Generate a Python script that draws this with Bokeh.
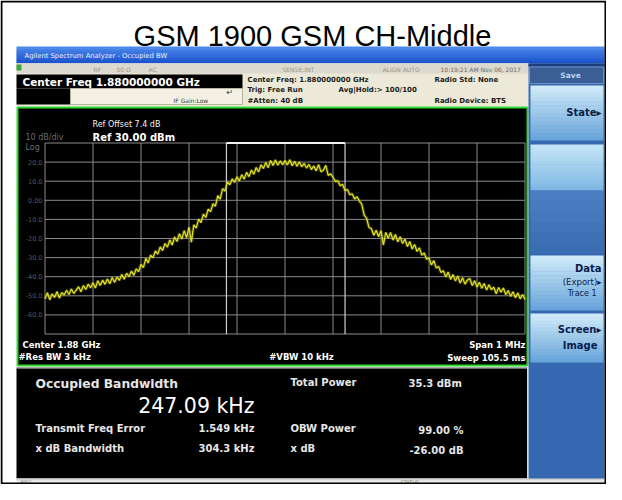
from bokeh.plotting import figure
from bokeh.models import Range1d
from bokeh.core.properties import value
from bokeh.embed import file_html
from bokeh.resources import INLINE

# ---------------- data ----------------
title_text = "GSM 1900 GSM CH-Middle"

freq_khz = list(range(-500, 505, 5))          # sweep points, offset from 1.88 GHz
trace_dbm = [
    -51.6, -48.4, -52.1, -49.0, -50.9, -47.8, -51.2, -48.3, -49.6, -47.1,
    -49.3, -46.4, -48.8, -47.0, -45.3, -47.9, -44.6, -46.7, -43.9, -45.8,
    -43.2, -45.9, -42.1, -44.6, -41.8, -44.0, -41.2, -43.7, -40.4, -42.9,
    -40.1, -41.9, -38.8, -41.3, -38.2, -40.0, -37.1, -39.2, -35.9, -37.4,
    -33.6, -35.2, -30.4, -32.8, -28.7, -30.1, -26.5, -28.2, -24.4, -26.3,
    -22.6, -24.5, -20.8, -23.4, -19.2, -21.6, -17.5, -20.3, -15.9, -19.6,
    -14.1, -21.9, -12.8, -14.6, -9.9, -11.7, -7.2, -9.0, -4.6, -5.9,
    -1.8, -3.1, 2.4, 0.6, 6.1, 4.8, 9.7, 8.1, 11.2, 9.4,
    12.3, 10.2, 13.4, 11.1, 14.6, 12.4, 15.8, 13.6, 17.2, 14.9,
    18.6, 16.7, 19.8, 17.1, 20.9, 18.2, 21.1, 18.4, 20.6, 18.7,
    20.8, 18.5, 21.2, 18.1, 20.4, 17.8, 20.1, 17.6, 19.3, 16.9,
    18.8, 16.1, 18.0, 15.4, 18.7, 14.9, 15.8, 18.3, 13.0, 13.9,
    12.1, 9.8, 10.2, 7.6, 8.4, 5.1, 5.6, 2.9, 3.4, 0.7,
    1.9, -0.4, -2.1, -7.8, -9.4, -14.2, -14.9, -18.3, -15.7, -19.1,
    -15.9, -23.4, -16.8, -19.9, -16.9, -20.8, -17.9, -21.7, -19.1, -22.6,
    -20.3, -24.2, -21.6, -25.5, -23.1, -26.8, -24.9, -28.7, -27.6, -30.9,
    -30.2, -33.8, -31.5, -35.4, -34.6, -37.8, -36.9, -40.1, -37.6, -41.4,
    -38.9, -42.2, -39.6, -43.3, -40.5, -43.9, -41.8, -40.9, -44.6, -42.1,
    -45.4, -42.9, -46.1, -43.6, -47.0, -44.2, -46.8, -45.5, -48.9, -45.6,
    -48.1, -45.9, -49.4, -47.2, -50.3, -47.9, -51.0, -48.5, -51.6, -49.3,
    -52.0,
]

x_ticks_khz = [-500, -400, -300, -200, -100, 0, 100, 200, 300, 400, 500]
y_ticks_dbm = [30, 20, 10, 0, -10, -20, -30, -40, -50, -60, -70]
y_tick_values = [20, 10, 0, -10, -20, -30, -40, -50, -60]
y_tick_labels = ["20.0", "10.0", "0.00", "-10.0", "-20.0", "-30.0", "-40.0", "-50.0", "-60.0"]

obw_khz = 247.09
freq_error_khz = 1.549

meas_left_labels = ["Transmit Freq Error", "x dB Bandwidth"]
meas_left_values = ["1.549 kHz", "304.3 kHz"]
meas_right_labels = ["Total Power", "OBW Power", "x dB"]
meas_right_values = ["35.3 dBm", "99.00 %", "-26.00 dB"]
obw_text = "247.09 kHz"

# ---------------- figure in pixel coordinates ----------------
X0, X1, Y0, Y1 = 0, 606, 0, 484
p = figure(width=X1 - X0, height=Y1 - Y0, x_range=Range1d(X0, X1), y_range=Range1d(Y1, Y0),
           output_backend="svg", toolbar_location=None, min_border=0,
           x_axis_location=None, y_axis_location=None)
p.grid.visible = False
p.outline_line_color = None
p.background_fill_color = "white"
p.border_fill_color = "white"

# graph grid placement (pixels) -> data ranges for the trace
GX0, GX1, GY0, GY1 = 44.5, 524.5, 142.5, 333.5
F0, F1, DT, DB = -500.0, 500.0, 30.0, -70.0
kx = (F1 - F0) / (GX1 - GX0)
ky = (DT - DB) / (GY1 - GY0)
p.extra_x_ranges = {"freq": Range1d(F0 - (GX0 - X0) * kx, F1 + (X1 - GX1) * kx)}
p.extra_y_ranges = {"dbm": Range1d(DB - (Y1 - GY1) * ky, DT + (GY0 - Y0) * ky)}
D = dict(x_range_name="freq", y_range_name="dbm")


def box(l, r, t, b, fill, line=None, lw=1):
    p.quad(left=[l], right=[r], top=[t], bottom=[b], fill_color=fill,
           line_color=line, line_width=lw, fill_alpha=1 if fill else 0)


def hex2rgb(h):
    return tuple(int(h[i:i + 2], 16) for i in (1, 3, 5))


def grad(l, r, t, b, c0, c1, n=14):
    a, z = hex2rgb(c0), hex2rgb(c1)
    ls, rs, ts, bs, cs = [], [], [], [], []
    for i in range(n):
        f = i / (n - 1)
        cs.append("#%02x%02x%02x" % tuple(round(a[k] + (z[k] - a[k]) * f) for k in range(3)))
        ls.append(l); rs.append(r)
        ts.append(t + (b - t) * i / n)
        bs.append(min(b, t + (b - t) * (i + 1) / n + 0.6))
    p.quad(left=ls, right=rs, top=ts, bottom=bs, fill_color=cs, line_color=None)


def txt(x, y, s, size, color="white", bold=False, align="left", font="DejaVu Sans",
        baseline="middle", **kw):
    p.text(x=[x], y=[y], text=[s], text_font=value(font), text_font_size=f"{size}px",
           text_font_style="bold" if bold else "normal", text_color=color,
           text_align=align, text_baseline=baseline, **kw)


# title
txt(312, 35, title_text, 29, "black", font="Liberation Sans", align="center", baseline="alphabetic")

# window title bar
grad(16, 604, 46, 63, "#4a88ea", "#1c53cc", 10)
txt(24, 55, "Agilent Spectrum Analyzer - Occupied BW", 6.8, "#e8f0ff")

# header panel
box(16, 528, 63, 106, "#ece9d8")
box(16, 528, 63, 73, "#dcd9cf")
box(16, 21, 64, 70, "#3aa53a")
for xx, s in [(93, "RF"), (116, "50 \u03a9"), (148, "AC"), (282, "SENSE:INT"), (382, "ALIGN AUTO")]:
    txt(xx, 68.5, s, 6, "#9a978c")
txt(440, 68.5, "10:19:21 AM Nov 06, 2017", 6, "#6f6c62")
box(16, 242, 74, 88, "black")
txt(22, 81, "Center Freq 1.880000000 GHz", 10.5, "white", bold=True)
box(16, 70, 88, 104, "black")
box(70, 242, 88, 104, "#f4f1e4", "#b8b4a2", 1)
txt(173, 100, "IF Gain:Low", 6, "#3a3a3a")
txt(226, 92, "\u21b5", 8, "#333333")
for (xx, yy, s) in [(247, 79, "Center Freq: 1.880000000 GHz"), (247, 89.5, "Trig: Free Run"),
                    (247, 100, "#Atten: 40 dB"), (338, 89.5, "Avg|Hold:> 100/100"),
                    (434, 79, "Radio Std: None"), (434, 100, "Radio Device: BTS")]:
    txt(xx, yy, s, 7, "#1c1c1c", bold=True)

# graph panel
box(17, 527, 107, 365, "black", "#2fd82f", 2)
p.segment(x0=x_ticks_khz, y0=[DB] * len(x_ticks_khz), x1=x_ticks_khz, y1=[DT] * len(x_ticks_khz),
          line_color="#8a8a8a", line_width=1, **D)
p.segment(x0=[F0] * len(y_ticks_dbm), y0=y_ticks_dbm, x1=[F1] * len(y_ticks_dbm), y1=y_ticks_dbm,
          line_color="#8a8a8a", line_width=1, **D)
obw_l = freq_error_khz - obw_khz / 2
obw_r = freq_error_khz + obw_khz / 2
p.segment(x0=[obw_l, obw_r], y0=[DB, DB], x1=[obw_l, obw_r], y1=[DT, DT],
          line_color="#d0d0d0", line_width=1.2, **D)
p.segment(x0=[obw_l], y0=[DT], x1=[obw_r], y1=[DT], line_color="#f0f0f0", line_width=2.2, **D)
p.text(x=[F0 - 2.5 * kx] * len(y_tick_values), y=y_tick_values, text=y_tick_labels,
       text_font=value("DejaVu Sans"), text_font_size="6.5px", text_color="#55595e",
       text_align="right", text_baseline="middle", **D)
p.line(freq_khz, trace_dbm, line_color="#8a8a12", line_width=3.2, line_alpha=0.45, **D)
p.line(freq_khz, trace_dbm, line_color="#e2e22a", line_width=1.2, **D)

txt(92, 124, "Ref Offset 7.4 dB", 8, "#f2f2f2")
txt(92, 137, "Ref 30.00 dBm", 10, "white", bold=True)
txt(25, 137, "10 dB/div", 8, "#6a6d72")
txt(25, 146.5, "Log", 8, "#6a6d72")
txt(22, 344, "Center 1.88 GHz", 8.5, "white", bold=True)
txt(18, 356.5, "#Res BW 3 kHz", 8.5, "white", bold=True)
txt(301, 356.5, "#VBW 10 kHz", 8.5, "white", bold=True, align="center")
txt(525, 344, "Span 1 MHz", 8.5, "white", bold=True, align="right")
txt(525, 357, "Sweep 105.5 ms", 8.5, "white", bold=True, align="right")

# measurement panel
box(16, 527, 367, 478, "black")
p.segment(x0=[16, 527], y0=[367.5, 367], x1=[527, 527], y1=[367.5, 478],
          line_color="#d6d6cc", line_width=1)
txt(35, 383, "Occupied Bandwidth", 12.3, "#e6e6e6", bold=True)
txt(254, 405.5, obw_text, 20.5, "white", align="right")
for i, lab in enumerate(meas_left_labels):
    yy = [428, 448][i]
    txt(35, yy, lab, 10, "#e6e6e6", bold=True)
    txt(254, yy, meas_left_values[i], 10, "#e6e6e6", bold=True, align="right")
for i, lab in enumerate(meas_right_labels):
    yy = [382, 428, 448][i]
    txt(290, yy, lab, 10, "#e6e6e6", bold=True)
txt(408, 383, meas_right_values[0], 10, "#e6e6e6", bold=True)
txt(463, 429.5, meas_right_values[1], 10, "#e6e6e6", bold=True, align="right")
txt(463, 449.5, meas_right_values[2], 10, "#e6e6e6", bold=True, align="right")

# status bar
box(16, 604, 478, 484, "#e6e6e4")
p.segment(x0=[16], y0=[478.5], x1=[604], y1=[478.5], line_color="#bcbcb8", line_width=1)
txt(20, 481.5, "MSG", 5, "#8a8a8a")
txt(400, 481.5, "STATUS", 5, "#8a8a8a")

# soft-key panel
box(528, 604, 63, 478, "#3568b0")
box(528, 604, 63, 66, "#1c3e7c")
box(529, 603, 66.5, 83, "#3b5e97", "#6d8fc4", 1)
txt(570, 75, "Save", 7.5, "#b9d6f3", bold=True, align="center")
grad(530, 603, 85, 140, "#cfe9f8", "#68a5da")
txt(601, 112, "State\u25b8", 10, "#0b1d4a", bold=True, align="right")
grad(530, 603, 144, 190, "#c4e4f6", "#80b9e4")
grad(530, 603, 190, 253, "#4a7ec2", "#3a6db2", 6)
grad(530, 603, 255, 310, "#cfe9f8", "#68a5da")
txt(601, 268, "Data", 10, "#0b1d4a", bold=True, align="right")
txt(601, 281, "(Export)\u25b8", 8.5, "#0b1d4a", align="right")
txt(596, 293, "Trace 1", 8, "#0b1d4a", align="right")
grad(530, 603, 313, 362, "#cfe9f8", "#68a5da")
txt(601, 329, "Screen\u25b8", 10, "#0b1d4a", bold=True, align="right")
txt(597, 345, "Image", 10, "#0b1d4a", bold=True, align="right")

# outer frame
box(1, 605, 1, 483, None, "black", 2)

open("out.html", "w").write(file_html(p, INLINE))
